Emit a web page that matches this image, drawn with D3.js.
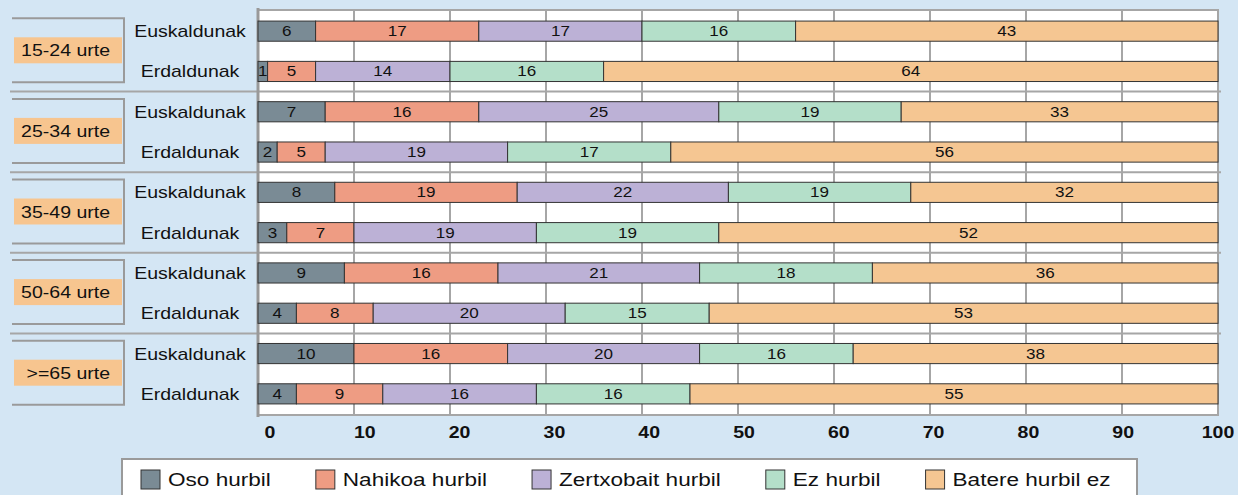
<!DOCTYPE html>
<html><head><meta charset="utf-8">
<script src="https://cdn.jsdelivr.net/npm/d3@7"></script>
<style>
body{margin:0;background:#d4e6f4;}
svg{display:block;font-family:"Liberation Sans",Arial,sans-serif;}
</style>
</head><body>
<svg id="c" width="1238" height="495"></svg>
<script>
// ---- data ----
const ageGroups = ["15-24 urte","25-34 urte","35-49 urte","50-64 urte",">=65 urte"];
const speakerGroups = ["Euskaldunak","Erdaldunak"];
const seriesNames = ["Oso hurbil","Nahikoa hurbil","Zertxobait hurbil","Ez hurbil","Batere hurbil ez"];
// rows in order: each age group -> Euskaldunak, Erdaldunak
const osoHurbil        = [6, 1, 7, 2, 8, 3, 9, 4, 10, 4];
const nahikoaHurbil    = [17, 5, 16, 5, 19, 7, 16, 8, 16, 9];
const zertxobaitHurbil = [17, 14, 25, 19, 22, 19, 21, 20, 20, 16];
const ezHurbil         = [16, 16, 19, 17, 19, 19, 18, 15, 16, 16];
const batereHurbilEz   = [43, 64, 33, 56, 32, 52, 36, 53, 38, 55];
const xTicks = [0,10,20,30,40,50,60,70,80,90,100];

// ---- styles ----
const colors = ["#7a8b95","#ee9c83","#bcb1d6","#b4dfc9","#f5c692"];
const SX = 1.22; // horizontal text stretch of the original
const gridCol = "#a6a6a6";

const series = [osoHurbil, nahikoaHurbil, zertxobaitHurbil, ezHurbil, batereHurbilEz];
const rows = [];
ageGroups.forEach((a,i)=>speakerGroups.forEach((s,j)=>rows.push({age:a, speaker:s, key:a+"|"+s, idx:i*2+j})));

const svg = d3.select("#c");
const x = d3.scaleLinear().domain([0,100]).range([258,1218]);
const xLab = d3.scaleLinear().domain([0,100]).range([270,1218]);
const y = d3.scaleBand().domain(rows.map(r=>r.key)).range([11,414]).paddingInner(0.5).paddingOuter(0.25);
const bw = y.bandwidth();
const plotTop = 10, plotBottom = 415;

function txt(g, xx, yy, s, size, anchor, weight){
  return g.append("text").attr("transform",`translate(${xx},${yy}) scale(${SX},1)`)
    .attr("text-anchor",anchor).attr("font-size",size).attr("font-weight",weight||"normal")
    .attr("fill","#111").text(s);
}

// plot background
svg.append("rect").attr("x",x(0)).attr("y",plotTop).attr("width",x(100)-x(0)).attr("height",plotBottom-plotTop).attr("fill","#fff");

// vertical gridlines
svg.append("g").selectAll("line").data(xTicks.filter(t=>t>0)).join("line")
  .attr("x1",d=>x(d)).attr("x2",d=>x(d)).attr("y1",plotTop).attr("y2",plotBottom)
  .attr("stroke",gridCol).attr("stroke-width",2);

// top / bottom borders
[plotTop, plotBottom].forEach(yy=>svg.append("line").attr("x1",x(0)).attr("x2",x(100)+1).attr("y1",yy).attr("y2",yy).attr("stroke",gridCol).attr("stroke-width",2));

// panel separators
const seps = [];
for(let k=1;k<ageGroups.length;k++){ seps.push(y(rows[2*k].key) - (y.step()-bw)/2); }
svg.append("g").selectAll("line").data(seps).join("line")
  .attr("x1",10).attr("x2",x(100)+3).attr("y1",d=>d).attr("y2",d=>d)
  .attr("stroke",gridCol).attr("stroke-width",2);

// left axis
svg.append("line").attr("x1",x(0)).attr("x2",x(0)).attr("y1",plotTop-2).attr("y2",plotBottom+2).attr("stroke","#999").attr("stroke-width",3);

// bars
const barG = svg.append("g");
rows.forEach(r=>{
  let cum = 0;
  series.forEach((s,j)=>{
    const v = s[r.idx];
    const x0 = cum, x1 = (j===series.length-1) ? 100 : cum+v;
    cum += v;
    barG.append("rect").attr("x",x(x0)).attr("y",y(r.key)).attr("width",x(x1)-x(x0)).attr("height",bw)
      .attr("fill",colors[j]).attr("stroke","#333").attr("stroke-width",1);
    txt(barG,(x(x0)+x(x1))/2, y(r.key)+bw/2+5, v, 14, "middle");
  });
  txt(svg, 190, y(r.key)+bw/2+6, r.speaker, 16, "middle");
});

// age labels with brackets
ageGroups.forEach((a,i)=>{
  const c = (y(rows[2*i].key) + y(rows[2*i+1].key) + bw)/2 - 1;
  const g = svg.append("g");
  g.append("path").attr("d",`M12,${c-32}H124V${c+32}H12`).attr("fill","none").attr("stroke","#9a9a9a").attr("stroke-width",2);
  g.append("rect").attr("x",14).attr("y",c-13).attr("width",108).attr("height",26).attr("fill","#f7c58f");
  txt(g, 110, c+6, a, 16, "end");
});

// x tick labels
xTicks.forEach(t=>txt(svg, xLab(t), 438, t, 16, "middle", "bold"));

// legend
const lg = svg.append("g");
lg.append("rect").attr("x",122).attr("y",459).attr("width",1015).attr("height",45).attr("fill","#fff").attr("stroke","#9a9a9a").attr("stroke-width",2);
let lx = 141;
seriesNames.forEach((n,j)=>{
  lg.append("rect").attr("x",lx).attr("y",470).attr("width",19).attr("height",19).attr("fill",colors[j]).attr("stroke","#333").attr("stroke-width",1);
  const t = txt(lg, lx+27, 486, n, 18.5, "start");
  const w = t.node().getComputedTextLength()*SX;
  lx = lx + 27 + w + 45;
});
</script>
</body></html>
